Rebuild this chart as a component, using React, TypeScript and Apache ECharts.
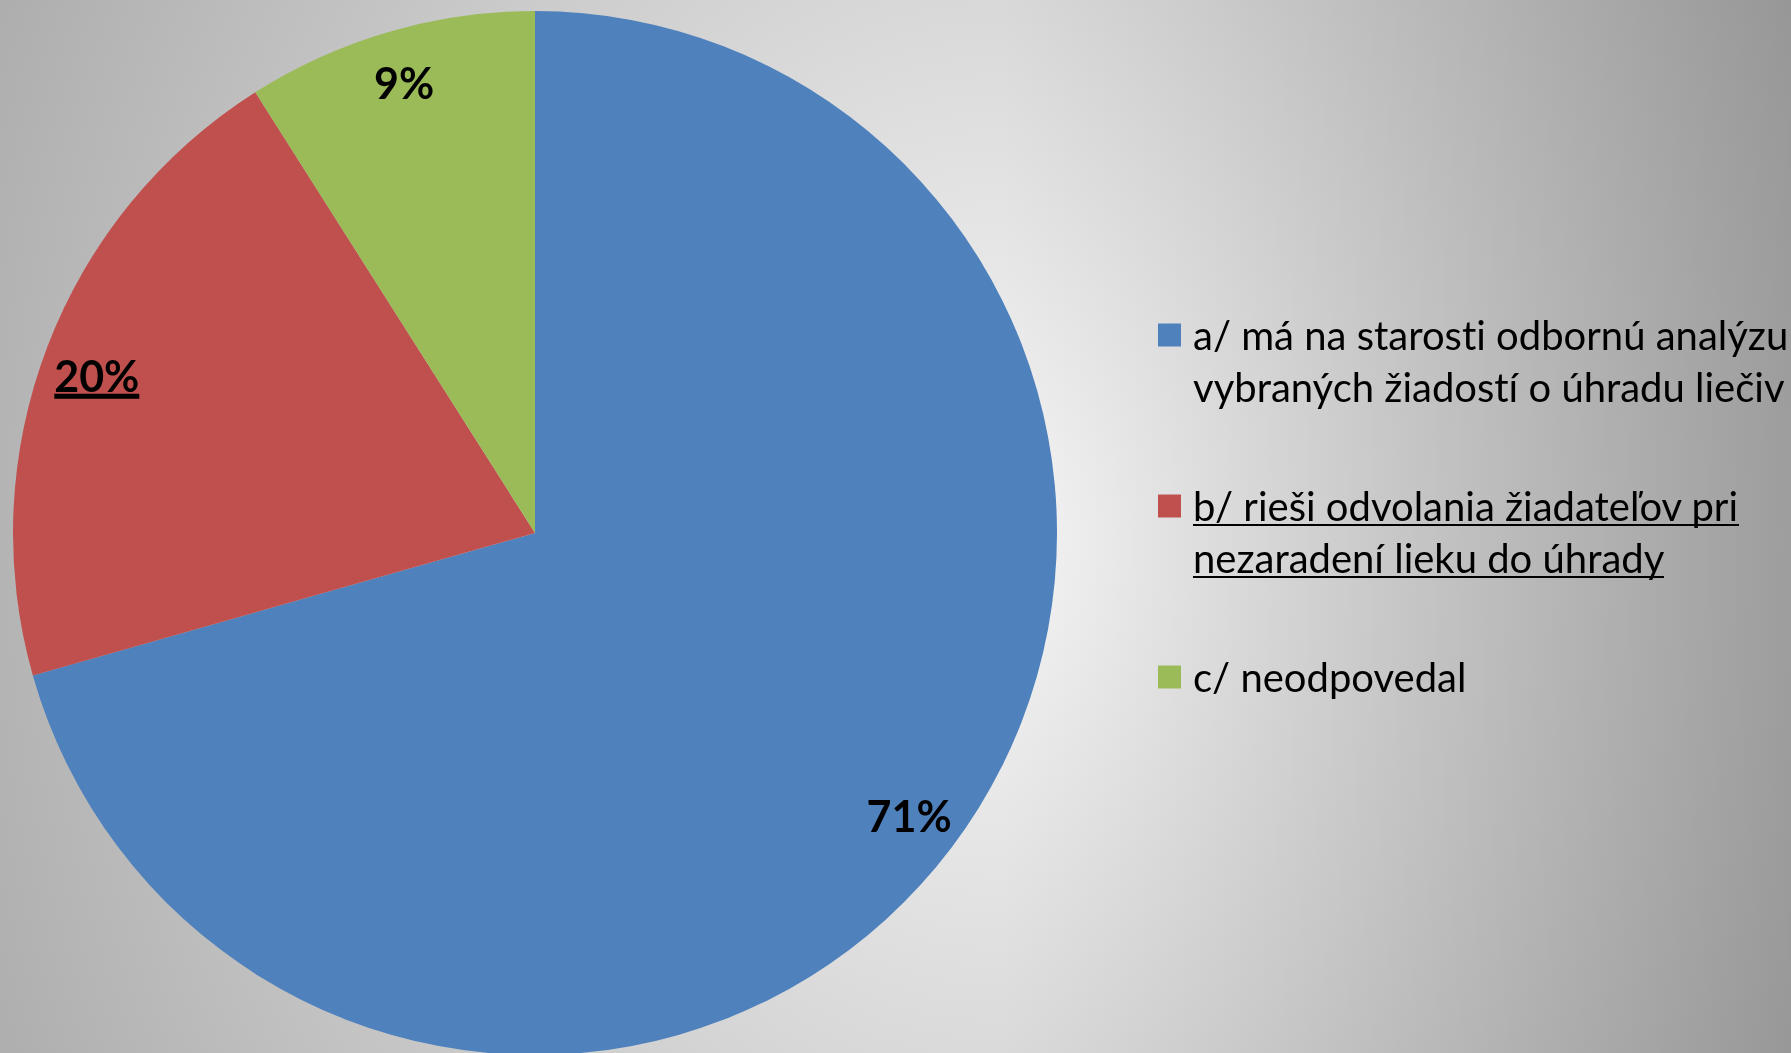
import React, { useEffect, useRef } from 'react';
import * as echarts from 'echarts';

// ---- data ----
const categoryLines: string[][] = [
  ['a/ má na starosti odbornú analýzu', 'vybraných žiadostí o úhradu liečiv'],
  ['b/ rieši odvolania žiadateľov pri', 'nezaradení lieku do úhrady'],
  ['c/ neodpovedal'],
];
const categories: string[] = categoryLines.map((l) => l.join(' '));
const values: number[] = [70.6, 20.4, 9.0];
const colors: string[] = ['#4F81BD', '#C0504D', '#9BBB59'];
const underlinedLegend: boolean[] = [false, true, false];
const underlinedLabel: boolean[] = [false, true, false];

const FONT = 'Lato';
const LEGEND_SIZE = 40;
const LABEL_SIZE = 43;

function measure(text: string, font: string): number {
  const c = document.createElement('canvas');
  const ctx = c.getContext('2d');
  if (!ctx) return text.length * 18;
  ctx.font = font;
  return ctx.measureText(text).width;
}

export default function App() {
  const ref = useRef<HTMLDivElement>(null);

  useEffect(() => {
    if (!ref.current) return;
    const chart = echarts.init(ref.current, undefined, { renderer: 'svg' });

    const legendFont = `${LEGEND_SIZE}px ${FONT}`;
    const labelFont = `bold ${LABEL_SIZE}px ${FONT}`;

    const legendRich: Record<string, any> = {
      t: { fontFamily: FONT, fontSize: LEGEND_SIZE, color: '#000', lineHeight: 52 },
      tb: { fontFamily: FONT, fontSize: LEGEND_SIZE, color: '#000', lineHeight: 36 },
    };
    categoryLines.forEach((lines, i) => {
      if (!underlinedLegend[i]) return;
      lines.forEach((line, j) => {
        legendRich[`u${i}_${j}`] = {
          width: Math.round(measure(line, legendFont)),
          height: 2,
          fontSize: 1,
          lineHeight: j === lines.length - 1 ? 8 : 16,
          verticalAlign: 'top',
          backgroundColor: '#000',
        };
      });
    });

    // padding keeps the first text line level with the legend square
    const legendPadding = categoryLines.map((lines, i) => {
      if (underlinedLegend[i]) return [60, 0, 0, 7];
      if (lines.length === 1) return [52, 0, 52, 7];
      return [52, 0, 0, 7];
    });

    const legendFormatter = (name: string) => {
      const i = categories.indexOf(name);
      const lines = categoryLines[i];
      if (underlinedLegend[i]) {
        return lines.map((l, j) => `{tb|${l}}\n{u${i}_${j}| }`).join('\n');
      }
      return lines.map((l) => `{t|${l}}`).join('\n');
    };

    const pct = (p: any) => `${Math.round(p.percent)}%`;

    const mainData = categories.map((name, i) => ({
      name,
      value: values[i],
      itemStyle: { color: colors[i] },
    }));

    const total = values.reduce((a, b) => a + b, 0);
    const labelData = categories.map((name, i) => {
      const item: any = { name, value: values[i] };
      if (underlinedLabel[i]) {
        const txt = `${Math.round((values[i] / total) * 100)}%`;
        const w = Math.round(measure(txt, labelFont));
        item.label = {
          formatter: (p: any) => `{t|${pct(p)}}\n{u| }`,
          padding: [24, 0, 0, 0],
          rich: {
            t: { fontFamily: FONT, fontSize: LABEL_SIZE, fontWeight: 'bold', color: '#000', lineHeight: 37 },
            u: { width: w, height: 5, fontSize: 1, lineHeight: 5, verticalAlign: 'top', backgroundColor: '#000' },
          },
        };
      }
      return item;
    });

    chart.setOption({
      animation: false,
      backgroundColor: 'transparent',
      legend: {
        orient: 'vertical',
        left: 1158,
        top: 257,
        padding: 0,
        itemGap: 15,
        itemWidth: 23,
        itemHeight: 23,
        icon: 'rect',
        selectedMode: false,
        data: categories.map((name, i) => ({
          name,
          textStyle: { padding: legendPadding[i], backgroundColor: 'rgba(0,0,0,0)' },
        })),
        formatter: legendFormatter,
        textStyle: { fontFamily: FONT, fontSize: LEGEND_SIZE, color: '#000', rich: legendRich },
      },
      series: [
        {
          type: 'pie',
          name: 'main',
          center: [535, 533],
          radius: [0, 522],
          startAngle: 90,
          clockwise: true,
          avoidLabelOverlap: false,
          label: { show: false },
          labelLine: { show: false },
          itemStyle: { borderWidth: 0 },
          emphasis: { disabled: true },
          data: mainData,
        },
        {
          type: 'pie',
          name: 'labels',
          center: [535, 533],
          radius: [410, 522],
          startAngle: 90,
          clockwise: true,
          silent: true,
          avoidLabelOverlap: false,
          itemStyle: { color: 'rgba(0,0,0,0)', borderWidth: 0 },
          labelLine: { show: false },
          emphasis: { disabled: true },
          label: {
            show: true,
            position: 'inside',
            formatter: pct,
            fontFamily: FONT,
            fontSize: LABEL_SIZE,
            fontWeight: 'bold',
            color: '#000',
          },
          data: labelData,
        },
      ],
    });

    return () => chart.dispose();
  }, []);

  return (
    <div
      ref={ref}
      style={{
        position: 'fixed',
        left: 0,
        top: 0,
        width: 1791,
        height: 1053,
        fontVariantLigatures: 'none',
        background:
          'linear-gradient(to right, rgba(0,0,0,0) 55.8%, rgba(0,0,0,0.19) 100%), radial-gradient(1500px 1800px at 1000px 540px, #f6f6f6 0%, #939393 100%)',
      }}
    />
  );
}
